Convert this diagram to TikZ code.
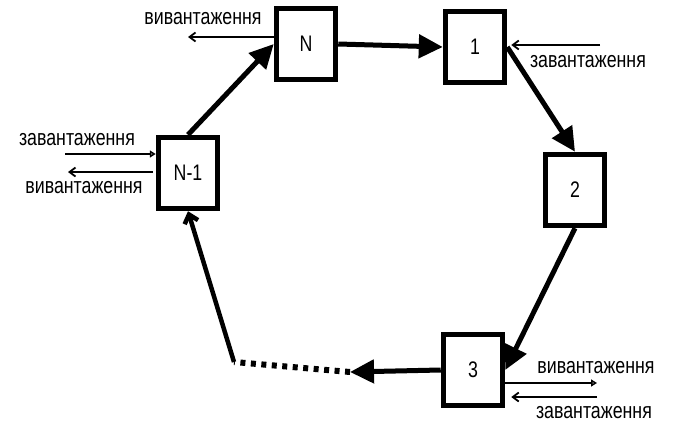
\documentclass[tikz,border=0pt]{standalone}
\usepackage{fontspec}
\setmainfont{Liberation Sans}[FakeStretch=0.79]
\usetikzlibrary{arrows.meta}
\tikzset{
  stagebox/.style={draw, line width=5.5pt, fill=white, minimum width=59pt, minimum height=71pt, inner sep=0pt},
  flowarrow/.style={-{Triangle[length=24pt,width=23pt]}, line width=5pt},
  sidearrow/.style={-{Straight Barb[length=6pt,width=9pt]}, line width=1.8pt},
  sidearrow2/.style={-{Triangle[open,length=6pt,width=7pt]}, line width=1.8pt},
  sidelabel/.style={inner sep=0pt}
}
\begin{document}
\begin{tikzpicture}[x=1pt, y=-1pt, every node/.style={font=\fontsize{22.5}{24}\selectfont}]
  \useasboundingbox (0,0) rectangle (673,423);
  % stations of the ring
  \node[stagebox] (nN) at (306,44) {N};
  \node[stagebox] (n1) at (475,47) {1};
  \node[stagebox] (n2) at (575,190) {2};
  \node[stagebox] (n3) at (473,370) {3};
  \node[stagebox] (nm1) at (188,173) {N-1};
  % main loop
  \coordinate (gapR) at (350,372);
  \coordinate (gapL) at (234,362);
  \draw[flowarrow] (nm1.north) -- (nN.west);
  \draw[flowarrow] (nN.east) -- (n1.west);
  \draw[flowarrow] (n1.east) -- (n2.north);
  \draw[flowarrow] (n2.south) -- (n3.east);
  \draw[flowarrow] (n3.west) -- (gapR);
  \draw[line width=6pt, dash pattern=on 5pt off 5.5pt] (gapR) -- (gapL);
  \draw[-{Straight Barb[length=8pt,width=14pt]}, line width=4.5pt] (gapL) -- (nm1.south);
  % loading / unloading
  \coordinate (nNout) at (188,37);
  \draw[sidearrow] (nN.west |- nNout) -- (nNout);
  \node[sidelabel] (nNoutlbl) at (203,19) {вивантаження};
  \coordinate (n1in) at (600,45);
  \draw[sidearrow, shorten >=4pt] (n1in) -- (n1.east |- n1in);
  \node[sidelabel] (n1inlbl) at (588,62) {завантаження};
  \coordinate (nm1in) at (65,154);
  \draw[sidearrow2] (nm1in) -- (nm1.west |- nm1in);
  \node[sidelabel] (nm1inlbl) at (77,140) {завантаження};
  \coordinate (nm1out) at (68,172);
  \draw[sidearrow, shorten <=3pt] (nm1.west |- nm1out) -- (nm1out);
  \node[sidelabel] (nm1outlbl) at (84,188) {вивантаження};
  \coordinate (n3out) at (597,383);
  \draw[sidearrow2] (n3.east |- n3out) -- (n3out);
  \node[sidelabel] (n3outlbl) at (596,368) {вивантаження};
  \coordinate (n3in) at (597,397);
  \draw[sidearrow, shorten >=6pt] (n3in) -- (n3.east |- n3in);
  \node[sidelabel] (n3inlbl) at (594,413) {завантаження};
\end{tikzpicture}
\end{document}
